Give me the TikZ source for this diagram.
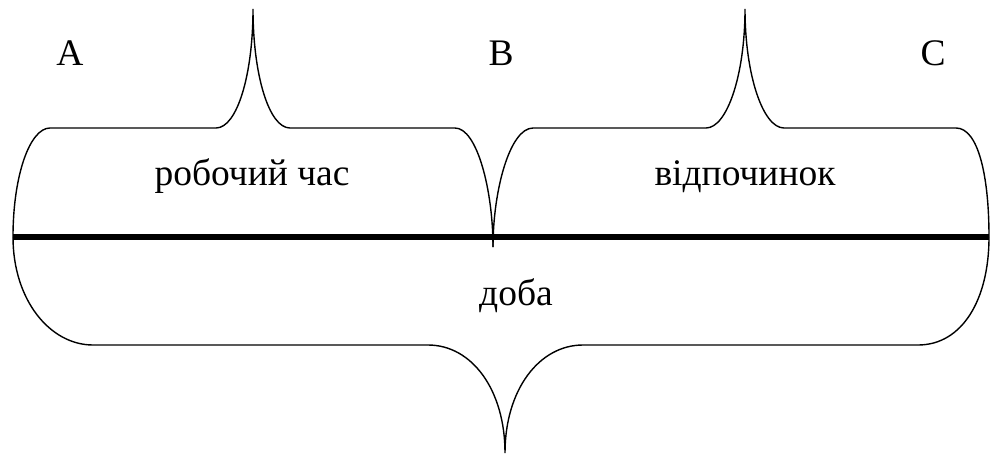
\documentclass[tikz,border=0pt]{standalone}
\usepackage{fontspec}
\setmainfont{Liberation Serif}
\usetikzlibrary{positioning}

\begin{document}
\begin{tikzpicture}[
    x=1pt, y=-1pt,
    brace/.style={
        draw,
        line width=1.4pt
    },
    axis/.style={line width=6pt},
    label/.style={
        font=\rmfamily\fontsize{37.5}{42}\selectfont,
        anchor=base,
        inner sep=0pt
    }
]

\useasboundingbox (0,0) rectangle (990,453);

% points on the time axis
\coordinate (start) at (13,237);
\coordinate (mid) at (493,237);
\coordinate (end) at (989,237);

\draw[axis] (start) -- (end);

% upper braces
\path[brace] (start) .. controls (13,175) and (30,128) .. (50,128)
    -- (216,128) .. controls (237,128) and (253,75) .. (253,9)
    .. controls (253,75) and (269,128) .. (290,128)
    -- (455,128) .. controls (477,128) and (493,190) .. (493,247);
\path[brace] (493,247) .. controls (493,190) and (510,128) .. (533,128)
    -- (706,128) .. controls (727,128) and (745,75) .. (745,9)
    .. controls (745,75) and (763,128) .. (784,128)
    -- (956,128) .. controls (978,128) and (989,175) .. (end);

% lower brace
\path[brace] (start) .. controls (13,300) and (50,345) .. (93,345)
    -- (428,345) .. controls (472,345) and (505,390) .. (505,453)
    .. controls (505,390) and (539,345) .. (583,345)
    -- (918,345) .. controls (962,345) and (989,300) .. (end);

\node[label] (a) at (70,65) {A};
\node[label] (b) at (501,65) {B};
\node[label] (c) at (933,65) {C};

\node[label] (work) at (252,185) {робочий час};
\node[label] (rest) at (745,185) {відпочинок};
\node[label] (day) at (516,305) {доба};

\end{tikzpicture}
\end{document}
